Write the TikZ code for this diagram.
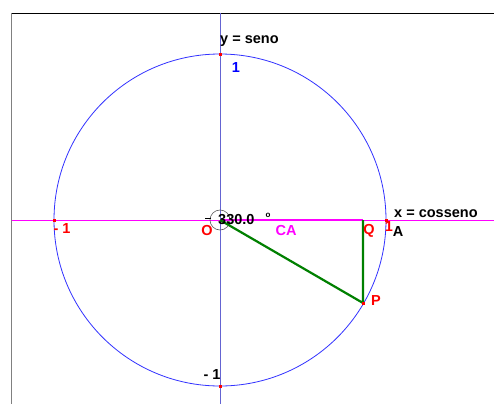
\documentclass[tikz,border=0pt]{standalone}
\usepackage{fontspec}
\setmainfont{Liberation Sans}
\definecolor{mag}{RGB}{255,0,255}
\definecolor{axblue}{RGB}{100,100,210}
\definecolor{circblue}{RGB}{50,50,255}
\definecolor{dgreen}{RGB}{0,128,0}
\begin{document}
\begin{tikzpicture}[x=1pt,y=-1pt,
  lbl/.style={font=\bfseries\fontsize{14.5}{14.5}\selectfont, inner sep=0pt},
  redlbl/.style={lbl, text=red}]
\useasboundingbox (0,0) rectangle (494,404);
\fill[white] (0,0) rectangle (494,404);
% frame
\draw[black, line width=0.8] (11,13) -- (494,13);
\draw[gray, line width=1.2] (11.5,13) -- (11.5,404);
% axes
\draw[mag, line width=0.8] (12,220) -- (494,220);
\draw[axblue, line width=1] (220,13) -- (220,404);
% circle
\coordinate (O) at (220,220);
\draw[circblue, line width=0.8] (O) circle (166);
\draw[gray!70!black, line width=0.6] (O) circle (10);
\draw[black, line width=0.6] (205,218) -- (211,218);
% red marks
\foreach \p in {(220,54),(220,386),(54,220),(386,220)}
  \fill[red] \p ++(-1.5,-1.5) rectangle ++(3,3);
% triangle
\coordinate (Q) at (363,220);
\coordinate (P) at (363,303);
\draw[mag, line width=2.2] (O) -- (Q);
\draw[dgreen, line width=2.2] (O) -- (P) -- (Q);
\fill[red] (P) ++(-1.5,-1.5) rectangle ++(3,3);
% labels
\node[lbl, anchor=base west] (ys) at (220,43) {y = seno};
\node[lbl, text=blue, anchor=base] (one) at (236,72) {1};
\node[lbl, anchor=base] (mone) at (212,379) {- 1};
\node[redlbl, anchor=base] (lm) at (62,233) {- 1};
\node[redlbl, anchor=base] (o) at (207,235) {O};
\node[lbl, text=mag, anchor=base] (ca) at (286,235) {CA};
\node[redlbl, anchor=base] (q) at (369,234) {Q};
\node[redlbl, anchor=base] (r1) at (389,231) {1};
\node[lbl, anchor=base] (a) at (398,236) {A};
\node[lbl, anchor=base west] (xc) at (394,217) {x = cosseno};
\node[redlbl, anchor=base] (p) at (376,305) {P};
\node[lbl, anchor=base west] (ang) at (218,224) {330.0};
\node[lbl, anchor=base, font=\bfseries\fontsize{8}{8}\selectfont] (deg) at (268,217) {o};
\end{tikzpicture}
\end{document}
